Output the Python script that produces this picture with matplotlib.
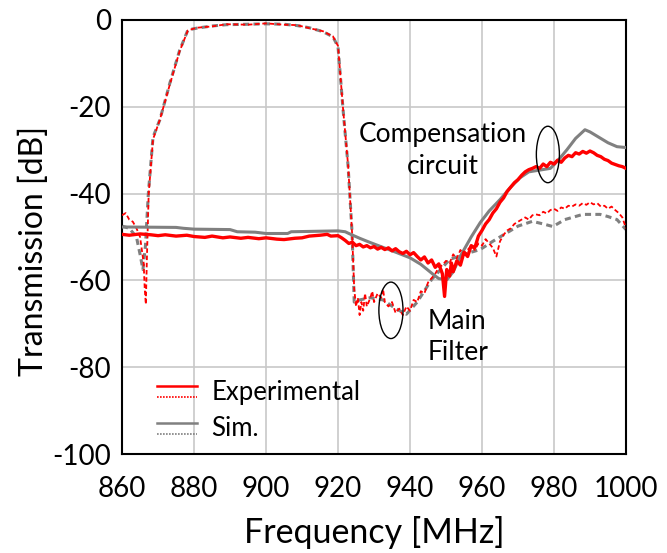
import numpy as np
import matplotlib
matplotlib.use("Agg")
import matplotlib.pyplot as plt
from matplotlib.lines import Line2D
from matplotlib.patches import Ellipse
from matplotlib.legend_handler import HandlerBase

plt.rcParams['font.family'] = ['Lato', 'DejaVu Sans']
plt.rcParams['axes.unicode_minus'] = False

# --- simulated main filter (grey dotted) ---
sim_mf_f = [860, 862, 864, 865, 865.8, 866.5, 867.3, 868.6, 870.5, 873.3, 876, 878.3, 880.8,
            885, 889, 895, 900, 905, 908.6, 912, 915.8, 918.6, 920, 921.4, 922.8, 923.9, 924.5,
            926, 929, 932.5, 936, 939, 942, 946, 951, 955, 959.5, 963, 967, 970, 974, 977,
            979.7, 983, 988, 992.8, 995, 997.5, 1000]
sim_mf_db = [-47.5, -48, -50, -54, -57.5, -52, -40, -27, -23, -14.5, -7, -2.3, -1.9,
             -1.4, -1.1, -1.0, -0.9, -1.0, -1.3, -1.8, -2.7, -3.9, -6.2, -20.7, -33.7, -49, -65,
             -64.5, -64, -64.5, -66.5, -67.8, -65, -59.8, -55.2, -54, -52.9, -51, -49, -47.5, -46.4, -47,
             -47.6, -46, -44.8, -44.8, -45.3, -46, -48.3]

# --- measured main filter (red dotted) ---
exp_mf_f = [860, 861, 862, 863, 864, 865, 866, 866.3, 866.6, 866.9, 867.4, 868.6, 870.5, 873.3,
            876, 878.3, 880.8, 885, 889, 895, 900, 905, 908.6, 912, 915.8, 918.6, 920, 921.4,
            922.8, 923.9, 924.5, 925, 925.5, 926, 926.5, 927, 927.5, 928, 929, 929.5, 930, 931,
            932, 932.5, 933, 934, 935, 936, 937, 938, 939, 940, 941, 942, 943, 944, 945, 946,
            947, 948, 949, 950, 951, 952, 953, 954, 955, 956, 957, 958, 959, 960, 961, 962, 963,
            964, 965, 966, 967, 968, 969, 970, 971, 972, 973, 974, 975, 976, 977, 978, 979, 980,
            981, 982, 983, 984, 985, 986, 987, 988, 989, 990, 991, 992, 993, 994, 995, 996, 997,
            998, 999, 1000]
exp_mf_db = [-45, -44.5, -46, -46.5, -48, -50, -56, -62, -65.5, -55, -40, -27.5, -23, -14.8,
             -7.2, -2.4, -1.8, -1.5, -1.0, -1.1, -0.8, -1.1, -1.2, -1.9, -2.6, -3.8, -6.0, -20.5,
             -33.5, -49, -62, -66, -64, -68, -65, -67, -63, -66, -64, -62.5, -65, -63,
             -64, -62, -65, -66, -65, -67.5, -66.5, -68, -66, -67, -64.5, -65, -62.5, -63, -60.5, -59.5,
             -58.5, -57, -56.5, -55.5, -56, -54, -55, -53, -54, -53, -52, -53, -51.5, -52, -50.5, -51.5, -52.5,
             -54.5, -51, -49.5, -48.5, -48, -47, -46.5, -46, -45.5, -46, -45, -44.8, -45, -44.2, -44.6, -43.8, -43.5,
             -44, -43.2, -43.5, -42.8, -43, -42.5, -42.8, -42.2, -42.6, -42, -42.5, -42.2, -43, -42.8, -43.5, -43, -43.8,
             -44.5, -45.5, -48]

# --- simulated compensation circuit (grey solid) ---
sim_cc_f = [860, 875, 877, 880, 890, 892, 897, 900, 906, 907, 920, 922, 923, 926, 929, 932.5,
            936, 940, 943, 946.4, 948, 950.3, 952, 954, 957, 959.5, 962, 965, 968, 970.5, 973,
            976, 979, 981, 983.6, 986, 988.6, 990, 992.8, 995, 997.5, 1000]
sim_cc_db = [-47.7, -47.8, -48.0, -48.2, -48.3, -48.8, -48.9, -49.2, -49.2, -48.8, -48.6, -48.8,
             -49.2, -50.3, -51.3, -52.4, -53.5, -54.8, -56.3, -58.6, -59.6, -59.8, -58, -54.4, -50,
             -46.7, -44, -41.4, -38.5, -36.4, -35, -34.6, -34.2, -32.5, -29.9, -27.3, -25.3, -25.8,
             -27.2, -28.3, -29.2, -29.4]

# --- measured compensation circuit (red solid) ---
exp_cc_f = [860, 862, 865, 868, 870, 872, 875, 878, 880, 883, 885, 888, 890, 893, 895, 898, 900,
            903, 905, 908, 910, 912, 915, 917, 918, 920, 921, 922, 923, 924, 925, 926, 927, 928,
            929, 930, 931, 932, 933, 934, 935, 936, 937, 938, 939, 940, 941, 942, 943, 944, 945,
            946, 947, 948, 949, 949.6, 950.2, 951, 951.5, 952, 953, 954, 955, 956, 957, 958, 959,
            960, 961, 962, 963, 964, 965, 966, 967, 968, 969, 970, 971, 972, 973, 974, 975, 976,
            977, 978, 979, 980, 981, 982, 983, 984, 985, 986, 987, 988, 989, 990, 991, 992, 993,
            994, 995, 996, 997, 998, 999, 1000]
exp_cc_db = [-49.4, -49.6, -49.3, -49.5, -49.7, -49.5, -49.8, -49.6, -49.9, -50.1, -49.8, -50.2,
             -50.0, -50.3, -50.1, -50.4, -50.2, -50.5, -50.6, -50.3, -50.2, -49.8, -49.6, -49.4,
             -49.8, -49.7, -50.2, -50.8, -51.5, -51.2, -52.0, -51.7, -52.3, -52.0, -52.5, -52.2,
             -52.8, -52.4, -52.9, -52.5, -53.2, -52.7, -53.4, -53.8, -53.3, -54.1, -53.6, -54.5,
             -55.3, -54.6, -56.0, -55.3, -57.0, -56.2, -58.5, -63.7, -57.5, -59, -56, -58, -55.5,
             -56.5, -53.5, -54.5, -52, -52.5, -49.8, -48.5, -47, -46, -44.5, -43.5, -42, -41, -39.5,
             -38.5, -37.5, -36.8, -35.8, -35, -34.5, -34.2, -33.8, -34.2, -33.2, -33.8, -32.8,
             -33.2, -32.3, -32.8, -31.8, -31.2, -31.5, -30.6, -30.9, -30.3, -30.7, -30.2, -30.6,
             -31.2, -31.5, -32.1, -32.4, -33.0, -33.3, -33.6, -33.8, -34.2]

RED = '#ff0000'
GREY = '#808080'


class TwoLineHandler(HandlerBase):
    # draws a solid line above a dotted line, like the original legend
    def __init__(self, color):
        super().__init__()
        self.color = color

    def create_artists(self, legend, orig_handle, xdescent, ydescent, width, height, fontsize, trans):
        y1 = 0.75 * height - ydescent
        y2 = 0.15 * height - ydescent
        l1 = Line2D([-xdescent, width - xdescent], [y1, y1], color=self.color, lw=1.8)
        l2 = Line2D([-xdescent, width - xdescent], [y2, y2], color=self.color, lw=1.2,
                    linestyle=(0, (1, 0.8)))
        l1.set_transform(trans)
        l2.set_transform(trans)
        return [l1, l2]


fig = plt.figure(figsize=(6.67, 5.53), dpi=100)
ax = fig.add_axes([0.183, 0.179, 0.7555, 0.785])

ax.plot(sim_mf_f, sim_mf_db, color=GREY, lw=2.2, linestyle=(0, (2.0, 1.4)), zorder=2)
ax.plot(exp_mf_f, exp_mf_db, color=RED, lw=1.3, linestyle=(0, (2.5, 1.5)), zorder=3)
ax.plot(sim_cc_f, sim_cc_db, color=GREY, lw=2.2, zorder=4)
ax.plot(exp_cc_f, exp_cc_db, color=RED, lw=2.4, zorder=5)

ax.set_xlim(860, 1000)
ax.set_ylim(-100, 0)
ax.set_xticks(np.arange(860, 1001, 20))
ax.set_yticks(np.arange(-100, 1, 20))
ax.grid(True, color='#c8c8c8', lw=1.2)
ax.set_axisbelow(True)
ax.tick_params(length=0, labelsize=20, pad=8)
ax.tick_params(axis='x', pad=16)
for s in ax.spines.values():
    s.set_linewidth(1.5)
    s.set_color('black')

ax.set_xlabel('Frequency [MHz]', fontsize=24.5, labelpad=10)
ax.set_ylabel('Transmission [dB]', fontsize=23)
ax.yaxis.set_label_coords(-0.145, 0.468)

ax.add_patch(Ellipse((978.3, -31), 6.4, 13, fill=False, ec='black', lw=1, zorder=6))
ax.add_patch(Ellipse((934.7, -66.9), 6.7, 13, fill=False, ec='black', lw=1, zorder=6))
ax.text(949.2, -30.1, 'Compensation\ncircuit', fontsize=19, ha='center', va='center',
        linespacing=1.32, zorder=7)
ax.text(945, -73.1, 'Main\nFilter', fontsize=19, ha='left', va='center',
        linespacing=1.32, zorder=7)

h_exp = Line2D([], [], color=RED)
h_sim = Line2D([], [], color=GREY)
leg = ax.legend([h_exp, h_sim], ['Experimental', 'Sim.'],
                handler_map={h_exp: TwoLineHandler(RED), h_sim: TwoLineHandler(GREY)},
                loc='lower left', bbox_to_anchor=(0.024, -0.024), frameon=False, fontsize=18.5,
                handlelength=1.55, handletextpad=0.55, labelspacing=0.45)

fig.savefig('out.png', dpi=100)
